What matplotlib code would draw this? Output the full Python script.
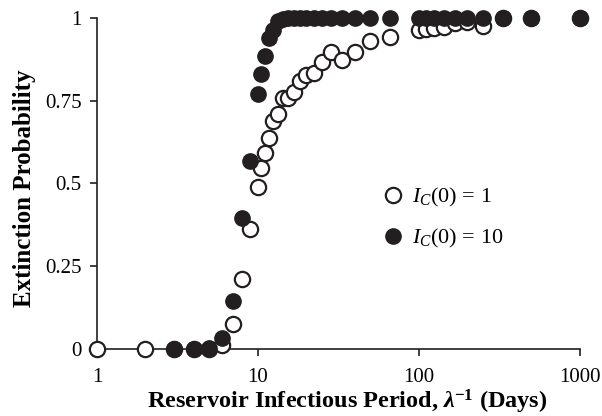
import matplotlib
matplotlib.use("Agg")
import matplotlib.pyplot as plt

plt.rcParams['font.family'] = ['Liberation Serif', 'DejaVu Serif']
plt.rcParams['mathtext.fontset'] = 'custom'
plt.rcParams['mathtext.rm'] = 'Liberation Serif'
plt.rcParams['mathtext.it'] = 'Liberation Serif:italic'
plt.rcParams['mathtext.bf'] = 'Liberation Serif:bold'
plt.rcParams['mathtext.bfit'] = 'Liberation Serif:bold:italic'

# reservoir infectious period (days)
period_open = [1, 2, 3, 4, 5, 6, 7, 8, 9, 10, 10.53, 11.11, 11.76, 12.5, 13.33,
               14.29, 15.38, 16.67, 18.18, 20, 22.22, 25, 28.57, 33.33, 40, 50,
               66.67, 100, 111.1, 125, 142.9, 166.7, 200, 250, 333.3, 500, 1000]
prob_open = [0, 0, 0, 0, 0, 0.012, 0.075, 0.21, 0.362, 0.489, 0.548, 0.591,
             0.638, 0.689, 0.709, 0.757, 0.759, 0.775, 0.81, 0.828, 0.833, 0.866,
             0.896, 0.873, 0.896, 0.93, 0.943, 0.964, 0.967, 0.969, 0.971, 0.984,
             0.988, 0.977, 1, 1, 1]

period_filled = [3, 4, 5, 6, 7, 8, 9, 10, 10.53, 11.11, 11.76, 12.5, 13.33,
                 14.29, 15.38, 16.67, 18.18, 20, 22.22, 25, 28.57, 33.33, 40, 50,
                 66.67, 100, 111.1, 125, 142.9, 166.7, 200, 250, 333.3, 500, 1000]
prob_filled = [0, 0, 0.003, 0.032, 0.145, 0.397, 0.568, 0.77, 0.83, 0.885, 0.94,
               0.964, 0.99, 0.997, 1, 1, 1, 1, 1, 1, 1, 1, 1, 1, 1, 1, 1, 1, 1, 1,
               1, 1, 1, 1, 1]

xticks = [1, 10, 100, 1000]
xticklabels = ['1', '10', '100', '1000']
yticks = [0, 0.25, 0.5, 0.75, 1]
yticklabels = ['0', '0.25', '0.5', '0.75', '1']

fig = plt.figure(figsize=(6.02, 4.16), dpi=100)
ax = fig.add_axes([0.161, 0.161, 0.802, 0.796])

ax.plot(period_open, prob_open, 'o', ms=11, mfc='white', mec='#231f20',
        mew=1.6, ls='none', clip_on=False, zorder=3, label=r'$I_C(0)$ = 1')
ax.plot(period_filled, prob_filled, 'o', ms=11, mfc='#231f20', mec='#231f20',
        mew=1.0, ls='none', clip_on=False, zorder=4, label=r'$I_C(0)$ = 10')

ax.set_xscale('log')
ax.set_xlim(1, 1000)
ax.set_ylim(0, 1)
ax.set_xticks(xticks)
ax.set_xticklabels(xticklabels)
ax.set_yticks(yticks)
ax.set_yticklabels(yticklabels)
ax.minorticks_off()

for side in ['top', 'right']:
    ax.spines[side].set_visible(False)
for side in ['left', 'bottom']:
    ax.spines[side].set_linewidth(1.2)
    ax.spines[side].set_color('#231f20')

ax.tick_params(axis='x', direction='out', length=5, width=1.2, pad=9,
               labelsize=15, color='#231f20')
ax.tick_params(axis='y', direction='out', length=5, width=1.2, pad=6,
               labelsize=15, color='#231f20')

ax.set_ylabel('Extinction Probability', fontsize=18, fontweight='bold')
ax.yaxis.set_label_coords(-0.126, 0.486)
ax.set_xlabel(r'Reservoir Infectious Period, $\mathbfit{\lambda}^{\mathbf{-1}}$ (Days)',
              fontsize=17.5, fontweight='bold')
ax.xaxis.set_label_coords(0.519, -0.117)

ax.legend(loc='upper left', bbox_to_anchor=(0.59, 0.493), frameon=False,
          fontsize=16, handlelength=1.0, handletextpad=0.36, labelspacing=0.81,
          borderaxespad=0, borderpad=0)

fig.savefig('out.png', dpi=100)
